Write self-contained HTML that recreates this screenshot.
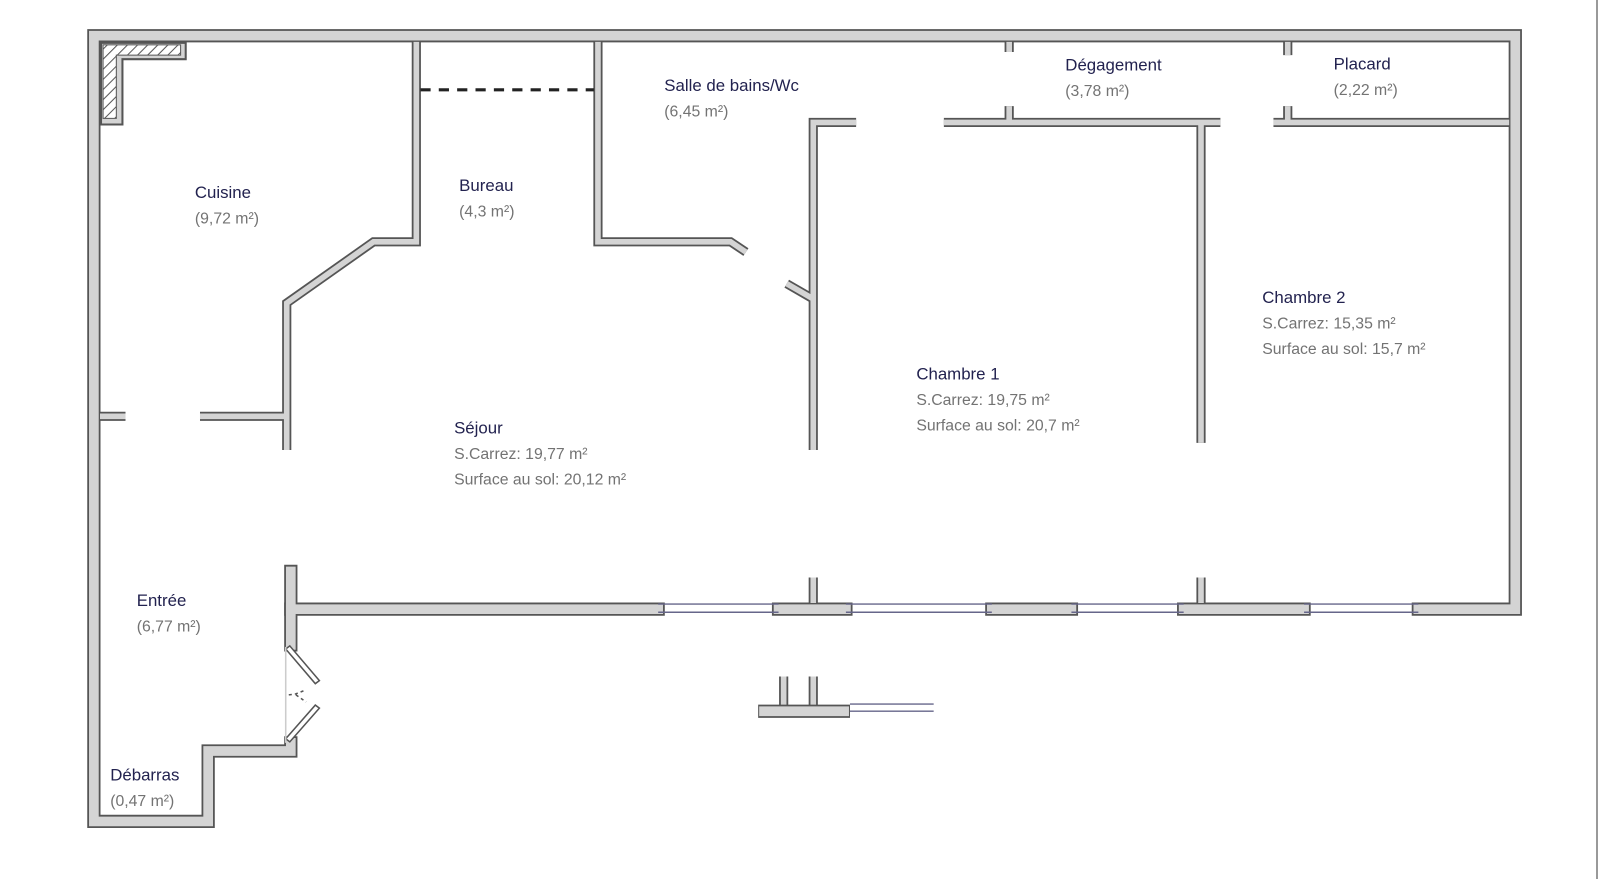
<!DOCTYPE html>
<html><head><meta charset="utf-8"><style>
html,body{margin:0;padding:0;background:#fff;width:1600px;height:879px;overflow:hidden}
svg{display:block}
.n{font-family:"Liberation Sans",sans-serif;font-size:16.5px;fill:#22224f}
.a{font-family:"Liberation Sans",sans-serif;font-size:15.5px;fill:#737373}
</style></head><body>
<svg width="1600" height="879" viewBox="0 0 1600 879" xmlns="http://www.w3.org/2000/svg">
<defs>
<pattern id="h" width="7" height="7" patternUnits="userSpaceOnUse" patternTransform="rotate(45)">
<rect width="7" height="7" fill="#fff"/><line x1="0" y1="0" x2="0" y2="7" stroke="#555" stroke-width="2"/>
</pattern>
</defs>
<line x1="1597" y1="0" x2="1597" y2="879" stroke="#999" stroke-width="2"/>
<g transform="scale(1.0204)">
<g fill="none" stroke-linejoin="miter" stroke-linecap="square">
<g stroke="#555" stroke-width="13">
<path d="M285 597 H645 M763 597 H829 M972 597 H1050 M1160 597 H1278 M1390 597 H1485 V35 H92 V805 H204 V736 H285 V728"/>
<path d="M285 560 V632"/>
</g>
<g stroke="#d4d4d4" stroke-width="9.5">
<path d="M285 597 H645 M763 597 H829 M972 597 H1050 M1160 597 H1278 M1390 597 H1485 V35 H92 V805 H204 V736 H285 V728"/>
<path d="M285 560 V632"/>
</g>
</g>
<g fill="none" stroke-linejoin="miter" stroke-linecap="butt">
<g stroke="#555" stroke-width="9">
<path d="M408 41 V237 H366 L281 297 V441"/>
<path d="M196 408 H281 M98 408 H123"/>
<path d="M586 41 V237 H716 L731 247"/>
<path d="M839 120 H797 V441 M797 293 L771 278"/>
<path d="M925 120 H1196 M1177 120 V434 M989 104 V120 M989 41 V51"/>
<path d="M1248 120 H1479 M1262 104 V120 M1262 41 V54"/>
<path d="M797 566 V591 M1177 566 V591"/>
<path d="M768 663 V692 M797 663 V692"/>
</g>
<g stroke="#d4d4d4" stroke-width="5.5">
<path d="M408 41 V237 H366 L281 297 V441"/>
<path d="M196 408 H281 M98 408 H123"/>
<path d="M586 41 V237 H716 L731 247"/>
<path d="M839 120 H797 V441 M797 293 L771 278"/>
<path d="M925 120 H1196 M1177 120 V434 M989 104 V120 M989 41 V51"/>
<path d="M1248 120 H1479 M1262 104 V120 M1262 41 V54"/>
<path d="M797 566 V591 M1177 566 V591"/>
<path d="M768 663 V692 M797 663 V692"/>
</g>
<path d="M743 697 H833" stroke="#555" stroke-width="13"/>
<path d="M744 697 H832" stroke="#d4d4d4" stroke-width="9.5"/>
</g>
<g stroke="#66668a" stroke-width="1.4">
<path d="M645 592 H763 M645 600 H763 M829 592 H972 M829 600 H972 M1050 592 H1160 M1050 600 H1160 M1278 592 H1390 M1278 600 H1390 M833 690 H915 M833 697 H915"/>
</g>
<path d="M99 42 H182 V58 H120 V122 H99 Z" fill="#d4d4d4" stroke="#555" stroke-width="2"/>
<path d="M101 44 H177 V54 H114 V116 H101 Z" fill="url(#h)" stroke="#555" stroke-width="1"/>
<path d="M412 88 H582" stroke="#222" stroke-width="3" stroke-dasharray="10 8"/>
<g fill="none" stroke="#555" stroke-width="1.5">
<path d="M280 636 L309 670 L313 667 L284 633 Z" fill="#fff"/>
<path d="M280 724 L309 691 L313 694 L284 727 Z" fill="#fff"/>
<path d="M280 634 V728" stroke="#ccc"/>
<path d="M283 681 L290 680 L300 676 M290 681 L300 688" stroke-dasharray="3 3"/>
</g>
<text class="n" x="191" y="194">Cuisine</text><text class="a" x="191" y="219">(9,72 m²)</text>
<text class="n" x="450" y="187">Bureau</text><text class="a" x="450" y="212">(4,3 m²)</text>
<text class="n" x="651" y="89">Salle de bains/Wc</text><text class="a" x="651" y="114">(6,45 m²)</text>
<text class="n" x="1044" y="69">Dégagement</text><text class="a" x="1044" y="94">(3,78 m²)</text>
<text class="n" x="1307" y="68">Placard</text><text class="a" x="1307" y="93">(2,22 m²)</text>
<text class="n" x="1237" y="297">Chambre 2</text><text class="a" x="1237" y="322">S.Carrez: 15,35 m²</text><text class="a" x="1237" y="347">Surface au sol: 15,7 m²</text>
<text class="n" x="898" y="372">Chambre 1</text><text class="a" x="898" y="397">S.Carrez: 19,75 m²</text><text class="a" x="898" y="422">Surface au sol: 20,7 m²</text>
<text class="n" x="445" y="425">Séjour</text><text class="a" x="445" y="450">S.Carrez: 19,77 m²</text><text class="a" x="445" y="475">Surface au sol: 20,12 m²</text>
<text class="n" x="134" y="594">Entrée</text><text class="a" x="134" y="619">(6,77 m²)</text>
<text class="n" x="108" y="765">Débarras</text><text class="a" x="108" y="790">(0,47 m²)</text>
</g>
</svg>
</body></html>
